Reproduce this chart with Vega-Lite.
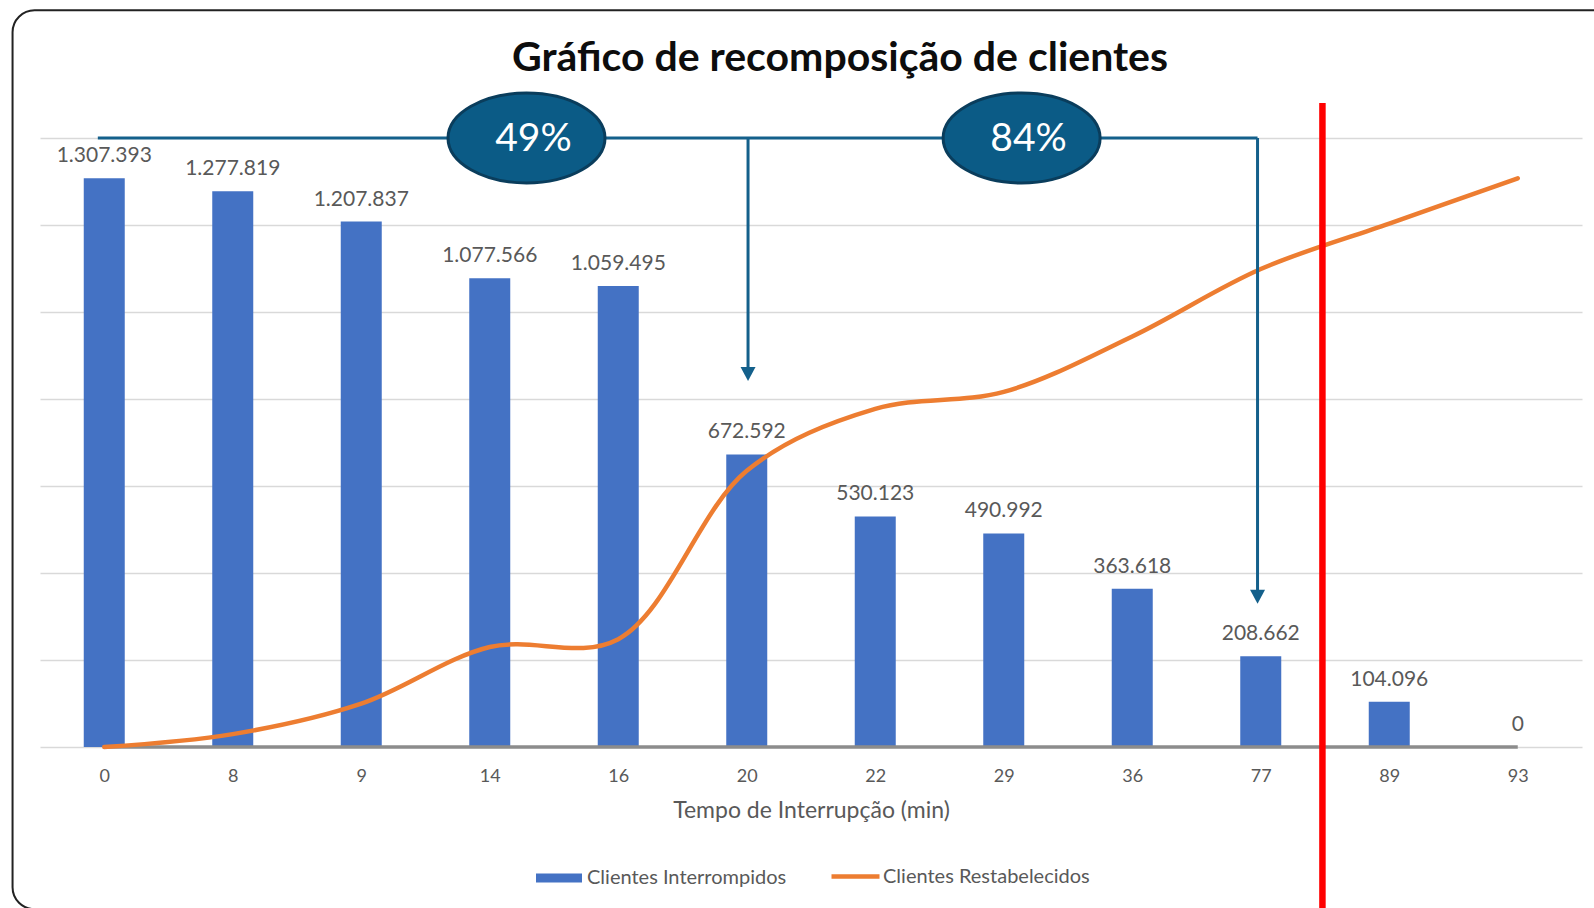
{
  "$schema": "https://vega.github.io/schema/vega-lite/v6.json",
  "width": 1542,
  "height": 609,
  "autosize": "none",
  "padding": {"left": 40, "top": 138, "right": 12, "bottom": 161},
  "background": "#FFFFFF",
  "title": {
    "text": "Gráfico de recomposição de clientes",
    "font": "Lato",
    "fontSize": 41,
    "fontWeight": "bold",
    "color": "#0D0D0D",
    "anchor": "middle",
    "frame": "group",
    "dx": 29,
    "baseline": "alphabetic",
    "offset": -103
  },
  "datasets": {
    "main": [
      {"t": 0, "interrompidos": 1307393, "restabelecidos": 0},
      {"t": 8, "interrompidos": 1277819, "restabelecidos": 29574},
      {"t": 9, "interrompidos": 1207837, "restabelecidos": 99556},
      {"t": 14, "interrompidos": 1077566, "restabelecidos": 229827},
      {"t": 16, "interrompidos": 1059495, "restabelecidos": 247898},
      {"t": 20, "interrompidos": 672592, "restabelecidos": 634801},
      {"t": 22, "interrompidos": 530123, "restabelecidos": 777270},
      {"t": 29, "interrompidos": 490992, "restabelecidos": 816401},
      {"t": 36, "interrompidos": 363618, "restabelecidos": 943775},
      {"t": 77, "interrompidos": 208662, "restabelecidos": 1098731},
      {"t": 89, "interrompidos": 104096, "restabelecidos": 1203297},
      {"t": 93, "interrompidos": 0, "restabelecidos": 1307393}
    ],
    "frame": [
      {"x": -0.7136, "x2": 11.75, "y": 1693600, "y2": -372800}
    ],
    "segments": [
      {"x": -0.05, "x2": 8.975, "y": 1400000, "y2": 1400000},
      {"x": 5.01, "x2": 5.01, "y": 1400000, "y2": 860000},
      {"x": 8.975, "x2": 8.975, "y": 1400000, "y2": 345000}
    ],
    "arrowheads": [
      {"x": 5.01, "y": 857500},
      {"x": 8.975, "y": 345500}
    ],
    "badges": [
      {"x": 3.286, "y": 1400000, "label": "49%"},
      {"x": 7.139, "y": 1400000, "label": "84%"}
    ],
    "marker": [
      {"x": 9.48, "y": 1480500, "y2": -420000}
    ]
  },
  "layer": [
    {
      "data": {"name": "main"},
      "layer": [
        {
          "mark": {"type": "bar", "width": 41},
          "encoding": {
            "x": {
              "field": "t",
              "type": "ordinal",
              "scale": {"type": "point", "padding": 0.5},
              "axis": {
                "labelAngle": 0,
                "labelFont": "Lato",
                "labelFontSize": 18,
                "labelColor": "#595959",
                "labelPadding": 20,
                "ticks": false,
                "domain": false,
                "grid": false,
                "title": "Tempo de Interrupção (min)",
                "titleFont": "Lato",
                "titleFontSize": 23,
                "titleFontWeight": "normal",
                "titleColor": "#595959",
                "titlePadding": 14
              }
            },
            "y": {
              "field": "interrompidos",
              "type": "quantitative",
              "title": null,
              "scale": {"domain": [0, 1400000], "nice": false, "zero": true},
              "axis": {
                "values": [0, 200000, 400000, 600000, 800000, 1000000, 1200000, 1400000],
                "grid": true,
                "gridColor": "#D9D9D9",
                "gridWidth": 1.5,
                "labels": false,
                "ticks": false,
                "domain": false,
                "title": null
              }
            },
            "fill": {
              "datum": "Clientes Interrompidos",
              "type": "nominal",
              "scale": {"range": ["#4472C4"]},
              "legend": {
                "title": null,
                "orient": "none",
                "legendX": 496,
                "legendY": 717,
                "padding": 0,
                "symbolType": "M-1,-0.2H1V0.2H-1Z",
                "symbolSize": 2116,
                "symbolStrokeWidth": 0,
                "labelOffset": 5,
                "labelLimit": 400,
                "labelFont": "Lato",
                "labelFontSize": 20,
                "labelColor": "#595959"
              }
            }
          }
        },
        {
          "mark": {"type": "text", "font": "Lato", "fontSize": 21, "color": "#595959", "baseline": "alphabetic", "dy": -16},
          "encoding": {
            "x": {"field": "t", "type": "ordinal"},
            "y": {"field": "interrompidos", "type": "quantitative", "title": null},
            "text": {"field": "interrompidos", "type": "quantitative", "format": ",d"}
          }
        },
        {
          "mark": {"type": "line", "color": "#8C8C8C", "strokeWidth": 3.5},
          "encoding": {
            "x": {"field": "t", "type": "ordinal"},
            "y": {"datum": 0, "type": "quantitative", "title": null}
          }
        },
        {
          "mark": {"type": "line", "interpolate": "catmull-rom", "strokeWidth": 4.5, "strokeCap": "round"},
          "encoding": {
            "x": {"field": "t", "type": "ordinal"},
            "y": {"field": "restabelecidos", "type": "quantitative", "title": null},
            "stroke": {
              "datum": "Clientes Restabelecidos",
              "type": "nominal",
              "scale": {"range": ["#ED7D31"]},
              "legend": {
                "title": null,
                "orient": "none",
                "legendX": 789,
                "legendY": 712,
                "padding": 0,
                "symbolType": "stroke",
                "symbolSize": 2304,
                "symbolStrokeWidth": 4.5,
                "labelOffset": 1,
                "labelLimit": 400,
                "labelFont": "Lato",
                "labelFontSize": 20,
                "labelColor": "#595959"
              }
            }
          }
        }
      ]
    },
    {
      "layer": [
        {
          "data": {"name": "frame"},
          "mark": {"type": "rect", "fill": "transparent", "stroke": "#222222", "strokeWidth": 2, "cornerRadius": 22},
          "encoding": {
            "x": {"field": "x", "type": "quantitative", "axis": null, "scale": {"domain": [-0.5, 11.5], "nice": false, "zero": false}},
            "x2": {"field": "x2"},
            "y": {"field": "y", "type": "quantitative", "title": null},
            "y2": {"field": "y2"}
          }
        },
        {
          "data": {"name": "segments"},
          "mark": {"type": "rule", "color": "#14608B", "strokeWidth": 3},
          "encoding": {
            "x": {"field": "x", "type": "quantitative", "axis": null},
            "x2": {"field": "x2"},
            "y": {"field": "y", "type": "quantitative", "title": null},
            "y2": {"field": "y2"}
          }
        },
        {
          "data": {"name": "arrowheads"},
          "mark": {"type": "point", "shape": "M-1,-0.93L1,-0.93L0,0.93Z", "size": 225, "filled": true, "color": "#14608B", "opacity": 1},
          "encoding": {
            "x": {"field": "x", "type": "quantitative", "axis": null},
            "y": {"field": "y", "type": "quantitative", "title": null}
          }
        },
        {
          "data": {"name": "badges"},
          "mark": {"type": "point", "shape": "M-1,0A1,0.573,0,1,0,1,0A1,0.573,0,1,0,-1,0Z", "size": 24649, "filled": true, "fill": "#0B5B86", "stroke": "#0A3D5C", "strokeWidth": 3, "opacity": 1},
          "encoding": {
            "x": {"field": "x", "type": "quantitative", "axis": null},
            "y": {"field": "y", "type": "quantitative", "title": null}
          }
        },
        {
          "data": {"name": "badges"},
          "mark": {"type": "text", "font": "Lato", "fontSize": 39, "color": "#FFFFFF", "align": "center", "baseline": "middle", "dx": 7, "dy": 1},
          "encoding": {
            "x": {"field": "x", "type": "quantitative", "axis": null},
            "y": {"field": "y", "type": "quantitative", "title": null},
            "text": {"field": "label", "type": "nominal"}
          }
        },
        {
          "data": {"name": "marker"},
          "mark": {"type": "rule", "color": "#FF0000", "strokeWidth": 6.5},
          "encoding": {
            "x": {"field": "x", "type": "quantitative", "axis": null},
            "y": {"field": "y", "type": "quantitative", "title": null},
            "y2": {"field": "y2"}
          }
        }
      ]
    }
  ],
  "resolve": {"scale": {"x": "independent"}},
  "config": {
    "view": {"stroke": null},
    "locale": {"number": {"decimal": ",", "thousands": ".", "grouping": [3], "currency": ["R$", ""]}}
  }
}
